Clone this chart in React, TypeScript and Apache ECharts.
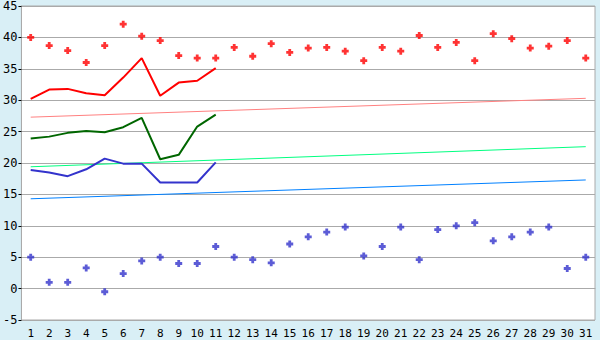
import React, { useEffect, useRef } from "react";
import * as echarts from "echarts";

const days = Array.from({ length: 31 }, (_, i) => String(i + 1));

const maxPoints = [40.0, 38.7, 37.9, 36.0, 38.7, 42.1, 40.2, 39.5, 37.1, 36.7, 36.7, 38.4, 37.0, 39.0, 37.6, 38.3, 38.4, 37.8, 36.3, 38.4, 37.8, 40.3, 38.4, 39.2, 36.3, 40.6, 39.8, 38.3, 38.6, 39.5, 36.7];
const minPoints = [5.0, 1.0, 1.0, 3.3, -0.5, 2.4, 4.4, 5.0, 4.0, 4.0, 6.7, 5.0, 4.6, 4.1, 7.1, 8.25, 9.0, 9.8, 5.2, 6.7, 9.8, 4.6, 9.4, 10.0, 10.5, 7.6, 8.25, 9.0, 9.8, 3.2, 5.0];

const redLine = [30.2, 31.7, 31.8, 31.1, 30.8, 33.6, 36.7, 30.7, 32.8, 33.1, 35.1];
const greenLine = [23.9, 24.2, 24.8, 25.1, 24.9, 25.7, 27.2, 20.6, 21.3, 25.8, 27.7];
const blueLine = [18.9, 18.5, 17.9, 19.0, 20.7, 19.9, 19.9, 16.9, 16.9, 16.9, 20.1];

const redTrend = [27.3, 30.3];
const greenTrend = [19.4, 22.6];
const blueTrend = [14.3, 17.3];

const yTicks = { min: -5, max: 45, interval: 5 };

const plus = "path://M1.5,0h2v1.5h1.5v2h-1.5v1.5h-2v-1.5h-1.5v-2h1.5z";
const font = "DejaVu Sans Mono";

function trend(vals: number[], color: string) {
  return {
    type: "line",
    data: [[days[0], vals[0]], [days[days.length - 1], vals[1]]],
    showSymbol: false,
    symbol: "none",
    lineStyle: { color, width: 1 },
    z: 2,
  };
}

function line(vals: number[], color: string) {
  return {
    type: "line",
    data: vals,
    showSymbol: false,
    symbol: "none",
    lineStyle: { color, width: 2 },
    z: 3,
  };
}

function dots(vals: number[], color: string) {
  return {
    type: "scatter",
    data: vals,
    symbol: plus,
    symbolSize: 7,
    itemStyle: { color },
    z: 4,
  };
}

export default function App() {
  const ref = useRef<HTMLDivElement>(null);
  useEffect(() => {
    if (!ref.current) return;
    const chart = echarts.init(ref.current, null, { renderer: "svg" });
    chart.setOption({
      animation: false,
      backgroundColor: "#d9eff6",
      grid: {
        left: 20,
        right: 5,
        top: 5,
        bottom: 20,
        show: true,
        backgroundColor: "#ffffff",
        borderColor: "#aaaaaa",
        borderWidth: 1,
      },
      xAxis: {
        type: "category",
        data: days,
        boundaryGap: true,
        axisLine: { lineStyle: { color: "#aaaaaa" } },
        axisTick: { alignWithLabel: true, length: 5, lineStyle: { color: "#000" } },
        axisLabel: { color: "#000", fontFamily: font, fontSize: 11, margin: 8, interval: 0 },
      },
      yAxis: {
        type: "value",
        min: yTicks.min,
        max: yTicks.max,
        interval: yTicks.interval,
        axisLine: { show: true, lineStyle: { color: "#aaaaaa" } },
        axisTick: { show: true, length: 3, lineStyle: { color: "#000" } },
        axisLabel: { color: "#000", fontFamily: font, fontSize: 12, margin: 4 },
        splitLine: { lineStyle: { color: "#aaaaaa", width: 1 } },
      },
      series: [
        trend(redTrend, "#ff8080"),
        trend(greenTrend, "#00ff80"),
        trend(blueTrend, "#0080ff"),
        line(redLine, "#ff0000"),
        line(greenLine, "#006600"),
        line(blueLine, "#3333cc"),
        dots(maxPoints, "#ff0000"),
        dots(minPoints, "#3333cc"),
      ],
    });
    return () => chart.dispose();
  }, []);
  return (
    <div
      ref={ref}
      style={{ position: "fixed", left: 0, top: 0, width: 600, height: 340 }}
    />
  );
}
